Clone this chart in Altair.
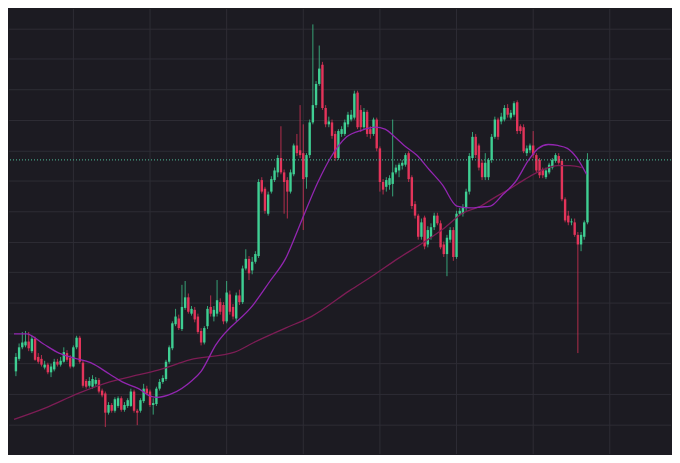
import altair as alt
import pandas as pd

# OHLC prices (arbitrary units), one candle per period
opens = [86,99,111,113,117,107,120,101,99,90,93,85,88,96,93,96,105,100,91,111,
         121,95,76,71,70,73,77,66,63,43,51,45,50,58,46,50,50,65,45,45,
         55,68,65,51,52,68,75,78,96,110,135,141,130,152,163,146,150,143,128,116,
         133,153,143,146,158,155,138,166,153,141,165,158,193,203,191,200,206,285,276,250,
         273,285,293,308,293,285,273,291,321,316,313,288,311,345,363,385,405,360,343,345,
         333,308,333,333,343,348,350,376,358,340,356,338,333,348,318,283,278,280,281,293,
         295,300,301,313,288,260,248,226,246,218,226,236,248,240,218,208,223,233,205,250,
         250,256,273,308,330,321,303,288,288,306,330,348,346,348,360,350,353,366,341,340,
         313,316,321,311,306,296,288,293,298,305,310,305,265,248,241,241,228,218,226,241]
closes = [101,111,116,117,110,120,98,96,93,93,85,91,96,93,97,106,98,91,111,121,
          96,71,70,76,78,77,65,61,43,51,45,57,58,46,51,56,65,45,43,56,
          68,63,51,53,68,75,79,96,111,136,143,131,153,163,148,151,140,127,116,131,
          151,146,150,160,148,138,168,148,143,165,158,193,203,188,200,208,283,273,253,270,
          286,295,308,293,283,273,293,321,313,311,286,311,345,363,385,401,360,343,346,331,
          308,336,338,345,353,353,375,340,340,356,333,333,348,318,283,275,285,287,293,298,
          301,303,311,286,258,248,226,241,216,233,236,248,240,215,208,225,233,205,250,253,
          256,273,310,330,311,298,288,303,306,330,348,330,351,360,353,355,365,336,336,315,
          318,321,311,295,290,290,295,301,306,311,303,265,243,241,242,228,218,228,241,306]
highs = [105,115,127,128,127,123,122,105,103,97,95,94,99,99,101,111,108,103,113,123,
         123,97,78,80,82,80,79,68,65,54,53,59,60,60,54,58,68,67,47,58,
         73,71,67,58,70,78,82,98,113,138,151,145,176,180,167,154,153,146,131,133,
         154,165,154,181,162,158,180,170,156,168,171,196,213,206,205,211,286,288,278,273,
         289,298,311,341,296,288,296,323,333,363,343,313,348,447,388,425,408,363,351,348,
         336,338,341,348,356,358,378,378,363,360,358,341,350,350,320,286,288,290,348,301,
         303,306,313,315,290,263,250,245,248,237,240,251,251,243,221,228,236,236,253,256,
         260,276,313,335,333,323,306,313,308,333,351,350,355,363,364,358,367,368,343,343,
         321,323,336,313,308,298,298,303,308,313,313,307,267,253,245,245,231,231,243,313]
lows = [81,97,109,111,107,105,97,94,91,88,83,80,86,91,91,95,96,89,90,109,
        94,69,68,69,68,71,63,59,28,41,43,43,48,44,44,48,49,43,30,43,
        53,61,49,41,50,66,73,76,94,108,133,129,128,150,146,144,137,125,113,114,
        130,143,138,143,145,135,136,145,140,138,155,156,191,181,187,198,204,271,250,248,
        271,283,288,291,250,245,271,289,310,308,233,276,308,343,360,383,358,340,340,328,
        305,306,330,331,340,346,348,338,335,338,330,328,331,315,273,270,273,275,268,291,
        288,296,299,283,255,245,223,223,213,215,223,233,238,213,205,185,220,201,203,248,
        247,253,270,306,308,295,285,285,285,303,328,327,343,346,350,348,351,333,333,313,
        310,313,308,293,287,287,286,291,296,303,301,263,241,238,238,226,105,211,223,239]

# Moving averages: (period index, value)
fast_ma_t = [-0.6,3.3,8.4,13.5,18,23.4,29.4,33.3,38.4,42.3,44.4,49,55,58,62.5,74.5,79.6,84.4,
             89.5,94.6,98.5,103.6,108.4,112.6,115.6,118.6,121.6,125.5,129.4,133.6,138.1,
             142.6,145.6,148.6,152.5,156.4,160.6,163.6,166.7,169.7,172.7,175.7,178.7]
fast_ma_v = [125,125,115,105,100,95,83,75,68,60,59,63,76,86,113,156,180,203,
             243,283,308,330,337,340,338,330,321,311,296,280,258,
             256,257,258,270,283,306,318,322,321,318,308,291]
slow_ma_t = [-0.6,9.3,19.5,29.4,39.3,45.3,54.4,68.5,74.5,84.4,92.5,104.5,112,119.5,127.6,
             134.5,139.6,145.6,149.5,154.7,159.5,164.6,169.7,173.6,177.2]
slow_ma_v = [36,48,63,75,83,88,98,106,116,131,143,170,186,203,220,
             236,250,258,266,276,286,295,300,300,298]

x_grid = [18, 42, 66, 90, 114, 138, 162, 186]
y_grid = [30, 62, 94, 125, 157, 189, 220, 252, 284, 315, 347, 379, 411, 442]

BG = "#1c1b22"
GRID = "#2e2d35"
UP = "#3fcf93"
DOWN = "#e3345a"

df = pd.DataFrame({
    "t": list(range(len(opens))),
    "open": opens, "close": closes, "high": highs, "low": lows,
})
df["dir"] = ["up" if c >= o else "down" for o, c in zip(opens, closes)]

fast = pd.DataFrame({"t": fast_ma_t, "v": fast_ma_v})
slow = pd.DataFrame({"t": slow_ma_t, "v": slow_ma_v})
last = pd.DataFrame({"p": [closes[-1]]})
xg = pd.DataFrame({"t": x_grid})
yg = pd.DataFrame({"p": y_grid})

xs = alt.Scale(domain=[-0.6, 203.6], nice=False, zero=False)
ys = alt.Scale(domain=[0, 463], nice=False, zero=False)
noax = alt.Axis(labels=False, ticks=False, domain=False, title=None, grid=False)
col = alt.Color("dir:N", scale=alt.Scale(domain=["up", "down"], range=[UP, DOWN]), legend=None)

vgrid = alt.Chart(xg).mark_rule(color=GRID, strokeWidth=1).encode(
    x=alt.X("t:Q", scale=xs, axis=noax))
hgrid = alt.Chart(yg).mark_rule(color=GRID, strokeWidth=1).encode(
    y=alt.Y("p:Q", scale=ys, axis=noax))

base = alt.Chart(df)
wicks = base.mark_rule(strokeWidth=1, opacity=0.75).encode(
    x=alt.X("t:Q", scale=xs, axis=noax),
    y=alt.Y("low:Q", scale=ys, axis=noax),
    y2="high:Q",
    color=col,
)
bodies = base.mark_bar(size=2.4).encode(
    x=alt.X("t:Q", scale=xs),
    y=alt.Y("open:Q", scale=ys),
    y2="close:Q",
    color=col,
)
slow_line = alt.Chart(slow).mark_line(color="#7d1d55", strokeWidth=1.3, interpolate="monotone").encode(
    x=alt.X("t:Q", scale=xs), y=alt.Y("v:Q", scale=ys))
fast_line = alt.Chart(fast).mark_line(color="#9226b0", strokeWidth=1.3, interpolate="monotone").encode(
    x=alt.X("t:Q", scale=xs), y=alt.Y("v:Q", scale=ys))
price_line = alt.Chart(last).mark_rule(color="#4fbf9c", strokeWidth=1, strokeDash=[1, 2]).encode(
    y=alt.Y("p:Q", scale=ys))

chart = alt.layer(vgrid, hgrid, wicks, bodies, slow_line, fast_line, price_line).properties(
    width=664, height=447,
    autosize=alt.AutoSizeParams(type="fit", contains="padding"),
    padding=0,
    background=BG,
).configure_view(stroke=None, fill=BG)

chart.save("out.html", embed_options={"renderer": "svg", "actions": False})
